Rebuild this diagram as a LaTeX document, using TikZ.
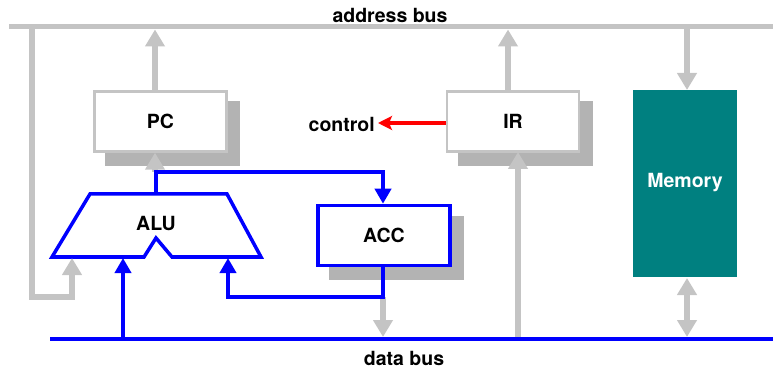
\documentclass[tikz,border=0pt]{standalone}
\usepackage{fontspec}
\setmainfont{TeX Gyre Heros}
\usetikzlibrary{arrows.meta}
\definecolor{lgray}{HTML}{C4C4C4}
\definecolor{shadowgray}{HTML}{B3B3B3}
\definecolor{memteal}{HTML}{008080}
\begin{document}
\begin{tikzpicture}[x=1pt,y=-1pt,
  lbl/.style={font=\fontsize{19.5}{22}\selectfont\bfseries, inner sep=0pt},
  regbox/.style={draw=lgray, line width=2.5pt, fill=white, minimum width=132pt, minimum height=60pt, lbl},
  shade/.style={fill=shadowgray},
  gline/.style={draw=lgray, line width=5.5pt},
  bline/.style={draw=blue, line width=4.5pt},
  gtip/.style={-{Triangle[width=19pt,length=17pt]}},
  btip/.style={-{Triangle[width=16pt,length=15pt]}}
]
\useasboundingbox (0,0) rectangle (773,371);

% buses
\coordinate (addrL) at (9,27);
\coordinate (addrR) at (773,27);
\coordinate (dataL) at (50,339);
\coordinate (dataR) at (773,339);
\draw[draw=lgray, line width=5pt] (addrL) -- (addrR);
\node[lbl] (addrlbl) at (390,15) {address bus};
\node[lbl] (datalbl) at (404,358) {data bus};

% shadows
\fill[shade] (105,101) rectangle (240,166);
\fill[shade] (458,101) rectangle (593,166);
\fill[shade] (329,216) rectangle (464,280);

% boxes
\node[regbox] (pc) at (160.5,121.5) {PC};
\node[regbox] (ir) at (513,121.5) {IR};
\node[regbox, draw=blue, line width=3.5pt] (acc) at (384,235.5) {ACC};
\node[fill=memteal, minimum width=104pt, minimum height=187pt, inner sep=0pt] (mem) at (685,183.5) {};
\node[lbl, text=white] (memlbl) at (685,183) {Memory};

% ALU
\coordinate (alutop) at (156,194);
\draw[blue, line width=3.5pt, line join=miter, fill=white]
  (90,194) -- (227,194) -- (261,257) -- (172,257) -- (156,238) -- (144,257) -- (52,257) -- cycle;
\node[lbl] (alu) at (156,224) {ALU};

% junction coordinates
\coordinate (j1) at (155,172);
\coordinate (j2) at (383,172);
\coordinate (j3) at (383,297);
\coordinate (j4) at (228,297);
\coordinate (aluR) at (228,258);
\coordinate (aluM) at (123,258);
\coordinate (aluL) at (72,258);
\coordinate (g1) at (32,27);
\coordinate (g2) at (32,297);
\coordinate (g3) at (72,297);
\coordinate (ctl) at (378,123);

% gray connectors
\draw[gline, gtip] (j1 |- pc.north) -- (155,29.5);
\draw[gline, gtip] (j1) -- (j1 |- pc.south);
\draw[gline, gtip, line join=miter] (g1) -- (g2) -- (g3) -- (aluL);
\draw[gline, gtip] (508,90) -- (508,29.5);
\draw[gline, gtip] (518,339) -- (518,152);
\draw[gline, gtip] (j3) -- (383,337);
\draw[gline, gtip] (687,27) -- (687,90);
\draw[gline, {Triangle[width=19pt,length=17pt]}-{Triangle[width=19pt,length=17pt]}] (687,278) -- (687,337);

% blue connectors
\draw[bline, line join=miter] (alutop) -- (j1 -| alutop) -- (j2) -- ++(0,4);
\draw[bline, btip] (j2) -- (acc.north -| j2);
\draw[bline, btip, line join=miter] (acc.south -| j3) -- (j3) -- (j4) -- (aluR);
\draw[bline, btip] (123,339) -- (aluM);
\draw[bline] (dataL) -- (dataR);

% control
\draw[red, line width=4pt, -{Stealth[width=14pt,length=14pt,inset=3pt]}] (ir.west |- ctl) -- (ctl);
\node[lbl, anchor=east] (control) at (375,124) {control};
\end{tikzpicture}
\end{document}
